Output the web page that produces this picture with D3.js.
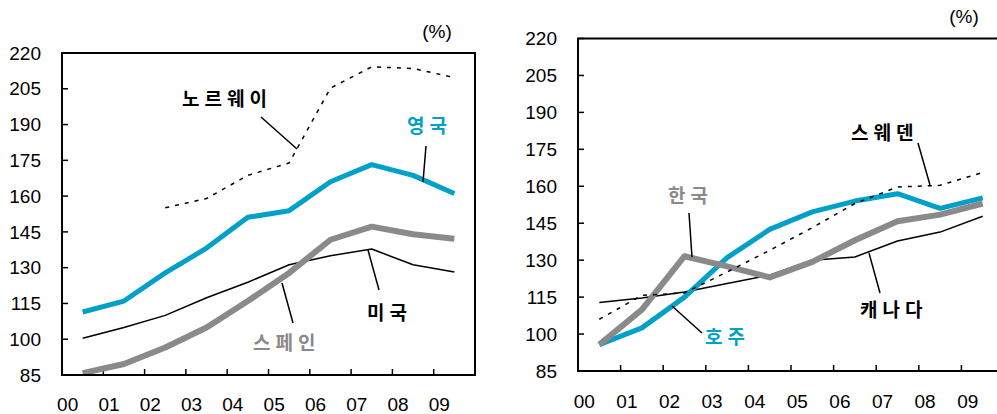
<!DOCTYPE html>
<html>
<head>
<meta charset="utf-8">
<script src="https://cdn.jsdelivr.net/npm/d3@7"></script>
<style>
  body { margin: 0; background: #fff; }
  svg { display: block; }
  .num { font-family: Arial, "Liberation Sans", sans-serif; font-size: 19px; fill: #000; }
  .lab { font-family: "Noto Sans CJK KR", sans-serif; font-weight: 700; font-size: 19px; letter-spacing: 5px; }
</style>
</head>
<body>
<svg width="997" height="414"></svg>
<script>
var years = ["00", "01", "02", "03", "04", "05", "06", "07", "08", "09"];
var yTicks = [85, 100, 115, 130, 145, 160, 175, 190, 205, 220];

// left panel
var uk     = [111.4, 116, 127.8, 138.2, 151.1, 153.9, 166, 173.2, 168.7, 161.1];
var spain  = [85.8, 89.6, 96.5, 104.9, 116, 127.8, 141.7, 147.2, 144, 142.1];
var usa    = [100.4, 104.9, 110, 117.4, 123.9, 131.2, 135, 137.8, 131.2, 128.2];
var norway = [null, null, 155.1, 159, 168.7, 173.9, 205.3, 214.2, 213.5, 209.7];

// right panel
var korea     = [95.7, 109.9, 131.6, 127.5, 123, 129.3, 138.1, 145.8, 148.5, 153];
var australia = [95.7, 102.5, 115, 131, 142.5, 149.6, 154, 157, 151, 155.3];
var canada    = [112.8, 114.6, 117.1, 120.5, 123.9, 130, 131.3, 137.8, 141.4, 147.8];
var sweden    = [106, 115.7, 116.7, 125.2, 134, 143.2, 153, 159.7, 160.4, 165.6];

var CYAN = "#00a0c8", GRAY = "#8a8a8a";

var svg = d3.select("svg");

function panel(opt) {
  var x = d3.scaleBand().domain(years).range([opt.left, opt.right]);
  var y = d3.scaleLinear().domain([85, 220]).range([opt.bottom, opt.top]);
  var g = svg.append("g");

  // y ticks, inward
  g.selectAll(".yt").data(yTicks).enter().append("line")
      .attr("x1", opt.left).attr("x2", opt.left + 6)
      .attr("y1", function(d) { return y(d); }).attr("y2", function(d) { return y(d); })
      .attr("stroke", "#000").attr("stroke-width", 1.5);
  g.selectAll(".yl").data(yTicks).enter().append("text")
      .attr("class", "num")
      .attr("x", opt.left - 21)
      .attr("y", function(d) { return y(d); })
      .attr("dy", "0.35em")
      .attr("text-anchor", "end")
      .text(function(d) { return d; });

  // x ticks at band boundaries, inward
  g.selectAll(".xt").data(years.slice(1)).enter().append("line")
      .attr("x1", function(d) { return x(d); }).attr("x2", function(d) { return x(d); })
      .attr("y1", opt.bottom).attr("y2", opt.bottom - 6)
      .attr("stroke", "#000").attr("stroke-width", 1.5);
  g.selectAll(".xl").data(years).enter().append("text")
      .attr("class", "num")
      .attr("x", function(d) { return x(d) + x.bandwidth() / 2 - 15; })
      .attr("y", opt.labelY)
      .attr("text-anchor", "middle")
      .text(function(d) { return d; });

  g.append("text").attr("class", "num")
      .attr("x", opt.pctX).attr("y", opt.pctY)
      .attr("text-anchor", "middle").text("(%)");

  var line = d3.line()
      .defined(function(d) { return d != null; })
      .x(function(d, i) { return x(years[i]) + x.bandwidth() / 2; })
      .y(function(d) { return y(d); });

  opt.series.forEach(function(s) {
    g.append("path")
        .attr("d", line(s.values))
        .attr("fill", "none")
        .attr("stroke", s.color)
        .attr("stroke-width", s.width)
        .attr("stroke-dasharray", s.dash || null)
        .attr("stroke-linejoin", "round");
  });

  // frame
  var frame = "M" + opt.left + "," + opt.top + "V" + opt.bottom + "H" + opt.right;
  if (opt.closed) frame += "V" + opt.top + "Z";
  else frame = "M" + opt.right + "," + opt.top + "H" + opt.left + "V" + opt.bottom + "H" + opt.right;
  g.append("path").attr("d", frame).attr("fill", "none")
      .attr("stroke", "#000").attr("stroke-width", 2);

  opt.labels.forEach(function(l) {
    g.append("line")
        .attr("x1", l.lx1).attr("y1", l.ly1).attr("x2", l.lx2).attr("y2", l.ly2)
        .attr("stroke", "#000").attr("stroke-width", 1.5);
    g.append("text").attr("class", "lab")
        .attr("x", l.x).attr("y", l.y).attr("dy", "0.36em")
        .attr("fill", l.color).text(l.text);
  });
}

panel({
  left: 62, right: 475, top: 53, bottom: 375, labelY: 411, closed: true,
  pctX: 437, pctY: 38,
  series: [
    { values: norway, color: "#000", width: 1.5, dash: "4,6" },
    { values: usa, color: "#000", width: 1.5 },
    { values: spain, color: GRAY, width: 6 },
    { values: uk, color: CYAN, width: 5 }
  ],
  labels: [
    { text: "노르웨이", x: 182, y: 99, color: "#000", lx1: 261, ly1: 117, lx2: 297, ly2: 149 },
    { text: "영국", x: 407, y: 126, color: CYAN, lx1: 426, ly1: 146, lx2: 423, ly2: 182 },
    { text: "미국", x: 367, y: 313, color: "#000", lx1: 368, ly1: 250, lx2: 379, ly2: 290 },
    { text: "스페인", x: 253, y: 343, color: GRAY, lx1: 282, ly1: 283, lx2: 293, ly2: 323 }
  ]
});

panel({
  left: 578, right: 1004, top: 38.5, bottom: 371, labelY: 408, closed: false,
  pctX: 964, pctY: 23,
  series: [
    { values: canada, color: "#000", width: 1.5 },
    { values: australia, color: CYAN, width: 5 },
    { values: korea, color: GRAY, width: 6 },
    { values: sweden, color: "#000", width: 1.5, dash: "4,6" }
  ],
  labels: [
    { text: "스웨덴", x: 851, y: 133, color: "#000", lx1: 918, ly1: 143, lx2: 930, ly2: 185 },
    { text: "한국", x: 668, y: 196, color: GRAY, lx1: 689, ly1: 213, lx2: 692, ly2: 257 },
    { text: "호주", x: 705, y: 337, color: CYAN, lx1: 702, ly1: 333, lx2: 672, ly2: 306 },
    { text: "캐나다", x: 860, y: 310, color: "#000", lx1: 880, ly1: 293, lx2: 869, ly2: 253 }
  ]
});
</script>
</body>
</html>
